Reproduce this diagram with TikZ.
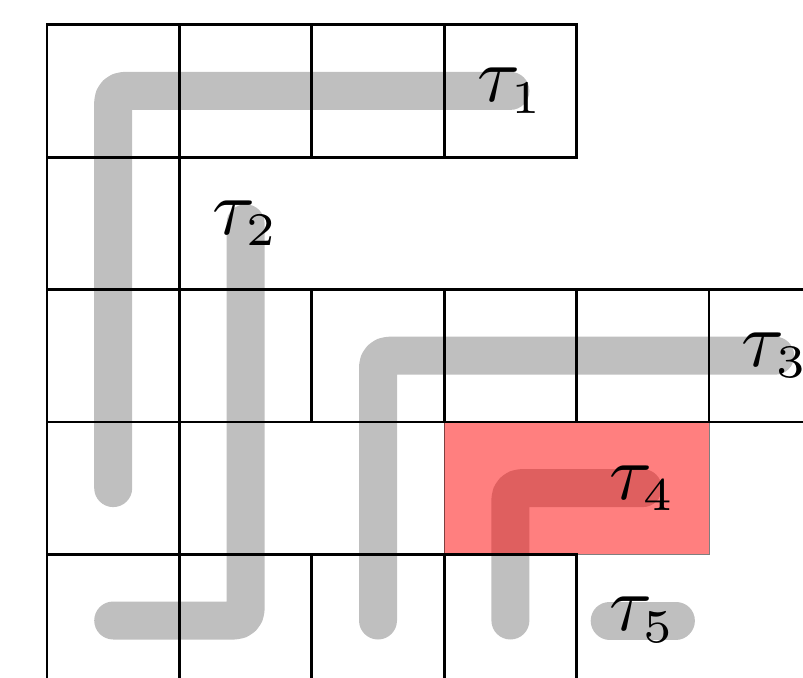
\documentclass[tikz,border=0pt]{standalone}
\newcommand{\tlab}[1]{\scalebox{7.8}{$\tau_{\mbox{\fontsize{6}{7}\selectfont #1}}$}}
\tikzset{
  track/.style={line width=38pt, color=black!25, line cap=round, line join=round, rounded corners=11pt},
  gridline/.style={line width=2.8pt, line cap=rect},
  busy/.style={fill=red, fill opacity=0.5, draw=black, draw opacity=0.5, line width=0.8pt},
  tlabel/.style={inner sep=0pt}
}
\begin{document}
\begin{tikzpicture}[x=132.4pt, y=-132.4pt]
\useasboundingbox (-0.355,-0.1866) rectangle (5.710,4.927);
\clip (-0.355,-0.1866) rectangle (5.710,4.927);
% tracks
\coordinate (a0) at (0.5,3.5); \coordinate (a1) at (0.5,0.5); \coordinate (a2) at (3.5,0.5);
\coordinate (b0) at (0.5,4.5); \coordinate (b1) at (1.5,4.5); \coordinate (b2) at (1.5,1.5);
\coordinate (c0) at (2.5,4.5); \coordinate (c1) at (2.5,2.5); \coordinate (c2) at (5.5,2.5);
\coordinate (d0) at (3.5,4.5); \coordinate (d1) at (3.5,3.5); \coordinate (d2) at (4.5,3.5);
\coordinate (e0) at (4.25,4.5); \coordinate (e1) at (4.75,4.5);
\draw[track] (a0) -- (a1) -- (a2);
\draw[track] (b0) -- (b1) -- (b2);
\draw[track] (c0) -- (c1) -- (c2);
\draw[track] (d0) -- (d1) -- (d2);
\draw[track] (e0) -- (e1);
% highlighted region
\draw[busy] (3,3) rectangle (5,4);
% grid
\draw[gridline] (0,0) -- (4,0) (0,1) -- (4,1);
\foreach \i in {0,...,4} \draw[gridline] (\i,0) -- (\i,1);
\draw[gridline] (0,1) -- (0,2) (1,1) -- (1,2);
\draw[gridline] (0,2) -- (6,2) (0,3) -- (6,3);
\foreach \i in {0,...,5} \draw[gridline] (\i,2) -- (\i,3);
\draw[gridline] (0,3) -- (0,4) (1,3) -- (1,4);
\draw[gridline] (0,4) -- (4,4);
\foreach \i in {0,...,4} \draw[gridline] (\i,4) -- (\i,5.2);
% labels
\node[tlabel] (t1) at (3.5,0.5) {\tlab{1}};
\node[tlabel] (t2) at (1.5,1.5) {\tlab{2}};
\node[tlabel] (t3) at (5.5,2.5) {\tlab{3}};
\node[tlabel] (t4) at (4.5,3.5) {\tlab{4}};
\node[tlabel] (t5) at (4.5,4.5) {\tlab{5}};
\end{tikzpicture}
\end{document}
